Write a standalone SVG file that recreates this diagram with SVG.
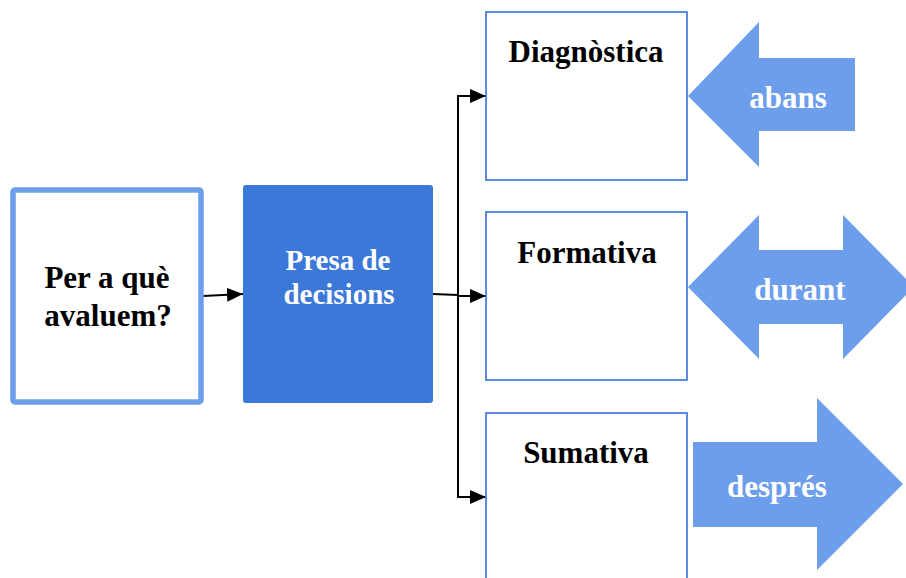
<svg xmlns="http://www.w3.org/2000/svg" width="906" height="578" viewBox="0 0 906 578">
<style>
.t{font-family:"Liberation Serif","Times New Roman",serif;font-weight:bold;text-anchor:middle}
.blk{fill:#000;font-size:31px}
.wht{fill:#fff;font-size:31px}
.box{fill:#fff;stroke:#4a80dc;stroke-width:1.8}
.barrow{fill:#6d9eeb}
.conn{fill:none;stroke:#000;stroke-width:2}
</style>
<defs>
<marker id="ah" markerUnits="userSpaceOnUse" markerWidth="16" markerHeight="14" refX="16" refY="7" orient="auto">
<path d="M0,0 L16,7 L0,14 z" fill="#000"/>
</marker>
</defs>
<rect width="906" height="578" fill="#fff"/>
<g id="connectors">
<line class="conn" x1="203" y1="296" x2="243" y2="294" marker-end="url(#ah)"/>
<polyline class="conn" points="433,294 458,295"/>
<line class="conn" x1="458" y1="96" x2="458" y2="497"/>
<line class="conn" x1="457" y1="96" x2="486" y2="96" marker-end="url(#ah)"/>
<line class="conn" x1="458" y1="296" x2="486" y2="296" marker-end="url(#ah)"/>
<line class="conn" x1="457" y1="497" x2="486" y2="497" marker-end="url(#ah)"/>
</g>
<g id="node-perque">
<rect x="13" y="190" width="188" height="212" rx="2" fill="#fff" stroke="#6d9eeb" stroke-width="5.5"/>
<text class="t blk" x="107" y="288">Per a què</text>
<text class="t blk" x="108" y="326">avaluem?</text>
</g>
<g id="node-presa">
<rect x="243" y="185" width="190" height="218" rx="3" fill="#3c78d8"/>
<text class="t wht" style="font-size:29px" x="338" y="270">Presa de</text>
<text class="t wht" style="font-size:29px" x="339" y="304">decisions</text>
</g>
<g id="node-diagnostica">
<rect class="box" x="486" y="12" width="201" height="168"/>
<text class="t blk" x="586" y="62">Diagnòstica</text>
</g>
<g id="node-formativa">
<rect class="box" x="486" y="212" width="201" height="168"/>
<text class="t blk" x="587" y="263">Formativa</text>
</g>
<g id="node-sumativa">
<rect class="box" x="486" y="413" width="201" height="180"/>
<text class="t blk" x="586" y="463">Sumativa</text>
</g>
<g id="node-abans">
<polygon class="barrow" points="688,96 759,22 759,58 855,58 855,131 759,131 759,167"/>
<text class="t wht" x="788" y="108">abans</text>
</g>
<g id="node-durant">
<polygon class="barrow" points="688,287 759,215 759,250 843,250 843,215 914,287 843,359 843,324 759,324 759,359"/>
<text class="t wht" x="800" y="300">durant</text>
</g>
<g id="node-despres">
<polygon class="barrow" points="693,442 817,442 817,398 903,484 817,570 817,527 693,527"/>
<text class="t wht" x="777" y="497">després</text>
</g>
</svg>
